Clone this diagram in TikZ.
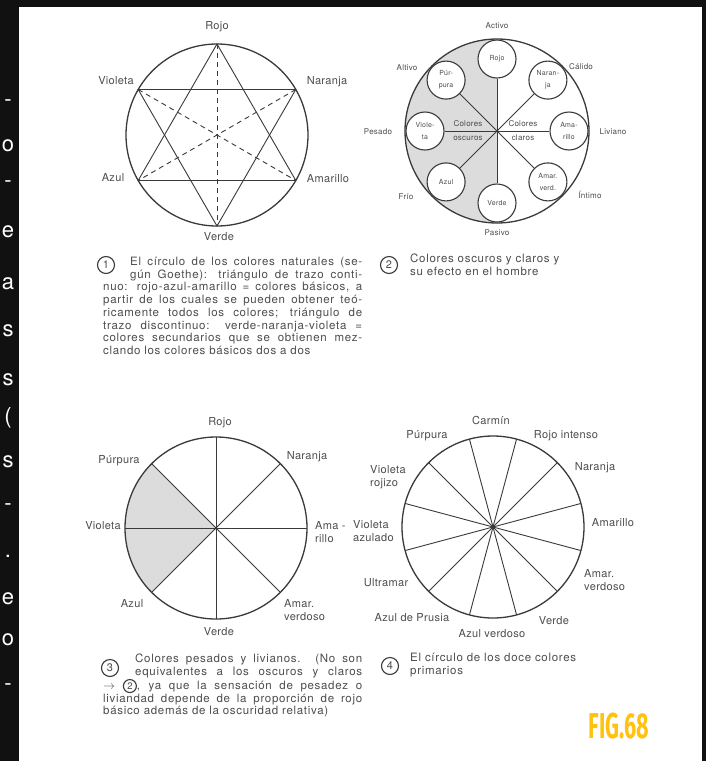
\documentclass[tikz,border=0pt]{standalone}
\usepackage{fontspec}
\setmainfont{TeX Gyre Heros}
\newfontfamily\wheelfont[LetterSpace=3]{TeX Gyre Heros}
\newfontfamily\capfont[LetterSpace=6]{TeX Gyre Heros}
\newfontfamily\tagfont{Fira Sans}
\usetikzlibrary{calc,positioning}
\definecolor{pageDark}{HTML}{111111}
\definecolor{wheelInk}{HTML}{3A3A3A}
\definecolor{wheelText}{HTML}{4D4D4D}
\definecolor{wheelShade}{HTML}{DCDCDC}
\definecolor{figGold}{HTML}{FFC20E}
\tikzset{
  every picture/.style={text=wheelText},
  wheel rim/.style={draw=wheelInk, line width=1.3pt},
  wheel spoke/.style={draw=wheelInk, line width=0.9pt},
  wheel dash/.style={draw=wheelInk, line width=0.9pt, dash pattern=on 5pt off 4pt},
  wheel label/.style={font=\wheelfont\fontsize{11}{12.5}\selectfont, inner sep=0pt, align=center},
  wheel small/.style={font=\wheelfont\fontsize{8}{9}\selectfont, inner sep=0pt, align=center},
  swatch/.style={circle, draw=wheelInk, line width=1.1pt, fill=white, minimum size=38pt,
    inner sep=0pt, align=center, font=\wheelfont\fontsize{7}{12}\selectfont},
  hub/.style={circle, fill=wheelInk, inner sep=0pt, minimum size=3pt},
  cap num/.style={circle, draw=wheelInk, line width=1.1pt, minimum size=17pt, inner sep=0pt,
    font=\fontsize{11}{12}\selectfont},
  cap text/.style={font=\capfont\fontsize{11.5}{12.7}\selectfont, inner sep=0pt},
  strip letter/.style={text=white, font=\fontsize{22}{22}\selectfont, inner sep=0pt}
}
\newcommand{\capref}[1]{\tikz[baseline=(capref.base)]\node[cap num, minimum size=13pt,
  font=\fontsize{9.5}{10}\selectfont] (capref) {#1};}

\begin{document}
\begin{tikzpicture}[x=1pt,y=-1pt]
  \useasboundingbox (0,0) rectangle (706,761);
  \fill[pageDark] (0,0) rectangle (706,761);
  \fill[white] (19,7) rectangle (702,761);
  \foreach \y/\c [count=\i] in {103/-, 146/o, 184/-, 232/e, 284/a, 331/s, 380/s, 418/{(},
    462/s, 507/-, 556/., 599/e, 640/o, 687/-}
    \node[strip letter] (strip\i) at (8,\y) {\c};

  \coordinate (c1) at (217,135);
  \draw[wheel rim] (c1) circle[radius=91pt];
  \foreach \n/\a in {rojo/90, naranja/30, amarillo/-30, verde/-90, azul/-150, violeta/150}
    \coordinate (g-\n) at ($(c1)+(\a:91pt)$);
  \draw[wheel spoke] (g-rojo) -- (g-azul) -- (g-amarillo) -- cycle;
  \draw[wheel spoke] (g-violeta) -- (g-naranja) -- (g-verde) -- cycle;
  \draw[wheel dash] (g-rojo) -- (g-verde);
  \draw[wheel dash] (g-violeta) -- (g-amarillo);
  \draw[wheel dash] (g-naranja) -- (g-azul);
  \node[wheel label] (l1-rojo) at (217,27) {Rojo};
  \node[wheel label] (l1-naranja) at (327,82) {Naranja};
  \node[wheel label] (l1-amarillo) at (328,179) {Amarillo};
  \node[wheel label] (l1-verde) at (219,237) {Verde};
  \node[wheel label] (l1-azul) at (113,178) {Azul};
  \node[wheel label] (l1-violeta) at (116,81) {Violeta};

  \coordinate (c2) at (497,131);
  \fill[wheelShade] ($(c2)+(90:92pt)$) arc[start angle=90, end angle=270, radius=92pt] -- cycle;
  \draw[wheel rim] (c2) circle[radius=92pt];
  \foreach \n/\a/\t in {rojo/90/Rojo, purpura/135/{Púr-\\pura}, violeta/180/{Viole-\\ta},
    azul/225/Azul, verde/270/Verde, amverd/315/{Amar.\\verd.}, amarillo/0/{Ama-\\rillo},
    naranja/45/{Naran-\\ja}}
    \node[swatch] (s-\n) at ($(c2)+(\a:72pt)$) {\t};
  \foreach \n in {rojo, purpura, violeta, azul, verde, amverd, amarillo, naranja}
    \draw[wheel spoke] (c2) -- (s-\n);
  \node[hub] (hub2) at (c2) {};
  \node[wheel small] (dark-a) at (468,124) {Colores};
  \node[wheel small] (dark-b) at (468,138) {oscuros};
  \node[wheel small] (light-a) at (523,124) {Colores};
  \node[wheel small] (light-b) at (523,138) {claros};
  \node[wheel small] (m-activo) at (497,26) {Activo};
  \node[wheel small] (m-altivo) at (407,68) {Altivo};
  \node[wheel small] (m-calido) at (581,67) {Cálido};
  \node[wheel small] (m-pesado) at (378,132) {Pesado};
  \node[wheel small] (m-liviano) at (613,132) {Liviano};
  \node[wheel small] (m-frio) at (406,197) {Frío};
  \node[wheel small] (m-intimo) at (590,195) {Íntimo};
  \node[wheel small] (m-pasivo) at (497,233) {Pasivo};

  \node[cap num] (n1) at (106,265) {1};
  \node[cap text, text width=259pt, align=justify, anchor=north west] (t1) at (103,257)
    {\hyphenpenalty=10000\exhyphenpenalty=10000\tolerance=10000
     \parshape 3 27pt 232pt 27pt 232pt 0pt 259pt
     El círculo de los colores naturales (se-\linebreak
     gún Goethe): triángulo de trazo conti-\linebreak
     nuo: rojo-azul-amarillo = colores básicos, a\linebreak
     partir de los cuales se pueden obtener teó-\linebreak
     ricamente todos los colores; triángulo de\linebreak
     trazo discontinuo: verde-naranja-violeta =\linebreak
     colores secundarios que se obtienen mez-\linebreak
     clando los colores básicos dos a dos\par};
  \node[cap num] (n2) at (389,265) {2};
  \node[cap text, align=left, anchor=north west] (t2) at (410,254)
    {Colores oscuros y claros y\\su efecto en el hombre};

  \coordinate (c3) at (216,528);
  \fill[wheelShade] (c3) -- ($(c3)+(135:91pt)$) arc[start angle=135, end angle=225, radius=91pt] -- cycle;
  \draw[wheel rim] (c3) circle[radius=91pt];
  \foreach \a in {0,45,...,315}{
    \coordinate (r3-\a) at ($(c3)+(\a:91pt)$);
    \draw[wheel spoke] (c3) -- (r3-\a);
  }
  \node[hub] (hub3) at (c3) {};
  \node[wheel label] (l3-rojo) at (220,423) {Rojo};
  \node[wheel label] (l3-naranja) at (307,457) {Naranja};
  \node[wheel label] (l3-purpura) at (119,461) {Púrpura};
  \node[wheel label] (l3-violeta) at (103,526) {Violeta};
  \node[wheel label, align=left, anchor=west] (l3-amarillo) at (315,532) {Ama -\\rillo};
  \node[wheel label] (l3-azul) at (132,604) {Azul};
  \node[wheel label, align=left, anchor=west] (l3-amverd) at (284,610) {Amar.\\verdoso};
  \node[wheel label] (l3-verde) at (219,632) {Verde};

  \coordinate (c4) at (493,527);
  \draw[wheel rim] (c4) circle[radius=91pt];
  \foreach \a in {15,45,...,345}{
    \coordinate (r4-\a) at ($(c4)+(\a:91pt)$);
    \draw[wheel spoke] (c4) -- (r4-\a);
  }
  \node[hub] (hub4) at (c4) {};
  \node[wheel label] (l4-carmin) at (491,420) {Carmín};
  \node[wheel label] (l4-purpura) at (427,436) {Púrpura};
  \node[wheel label] (l4-rojo) at (566,436) {Rojo intenso};
  \node[wheel label] (l4-naranja) at (595,468) {Naranja};
  \node[wheel label, align=left, anchor=west] (l4-vrojizo) at (370,477) {Violeta\\rojizo};
  \node[wheel label, align=left, anchor=west] (l4-vazulado) at (353,531) {Violeta\\azulado};
  \node[wheel label] (l4-amarillo) at (613,523) {Amarillo};
  \node[wheel label] (l4-ultramar) at (386,583) {Ultramar};
  \node[wheel label, align=left, anchor=west] (l4-amverd) at (584,580) {Amar.\\verdoso};
  \node[wheel label] (l4-prusia) at (412,618) {Azul de Prusia};
  \node[wheel label] (l4-verde) at (554,621) {Verde};
  \node[wheel label] (l4-azverd) at (492,634) {Azul verdoso};

  \node[cap num] (n3) at (110,668) {3};
  \node[cap text, text width=259pt, align=justify, anchor=north west] (t3) at (103,654)
    {\hyphenpenalty=10000\exhyphenpenalty=10000\tolerance=10000
     \parshape 3 32pt 227pt 32pt 227pt 0pt 259pt
     Colores pesados y livianos. (No son\linebreak
     equivalentes a los oscuros y claros\linebreak
     \ensuremath{\rightarrow} \capref{2}, ya que la sensación de pesadez o\linebreak
     liviandad depende de la proporción de rojo\linebreak
     básico además de la oscuridad relativa)\par};
  \node[cap num] (n4) at (390,666) {4};
  \node[cap text, align=left, anchor=north west] (t4) at (410,653)
    {El círculo de los doce colores\\primarios};

  \node[text=figGold, font=\tagfont\bfseries\fontsize{36}{36}\selectfont, inner sep=0pt]
    (figtag) at (619,726) {\scalebox{0.6}[1]{FIG.68}};
\end{tikzpicture}
\end{document}
